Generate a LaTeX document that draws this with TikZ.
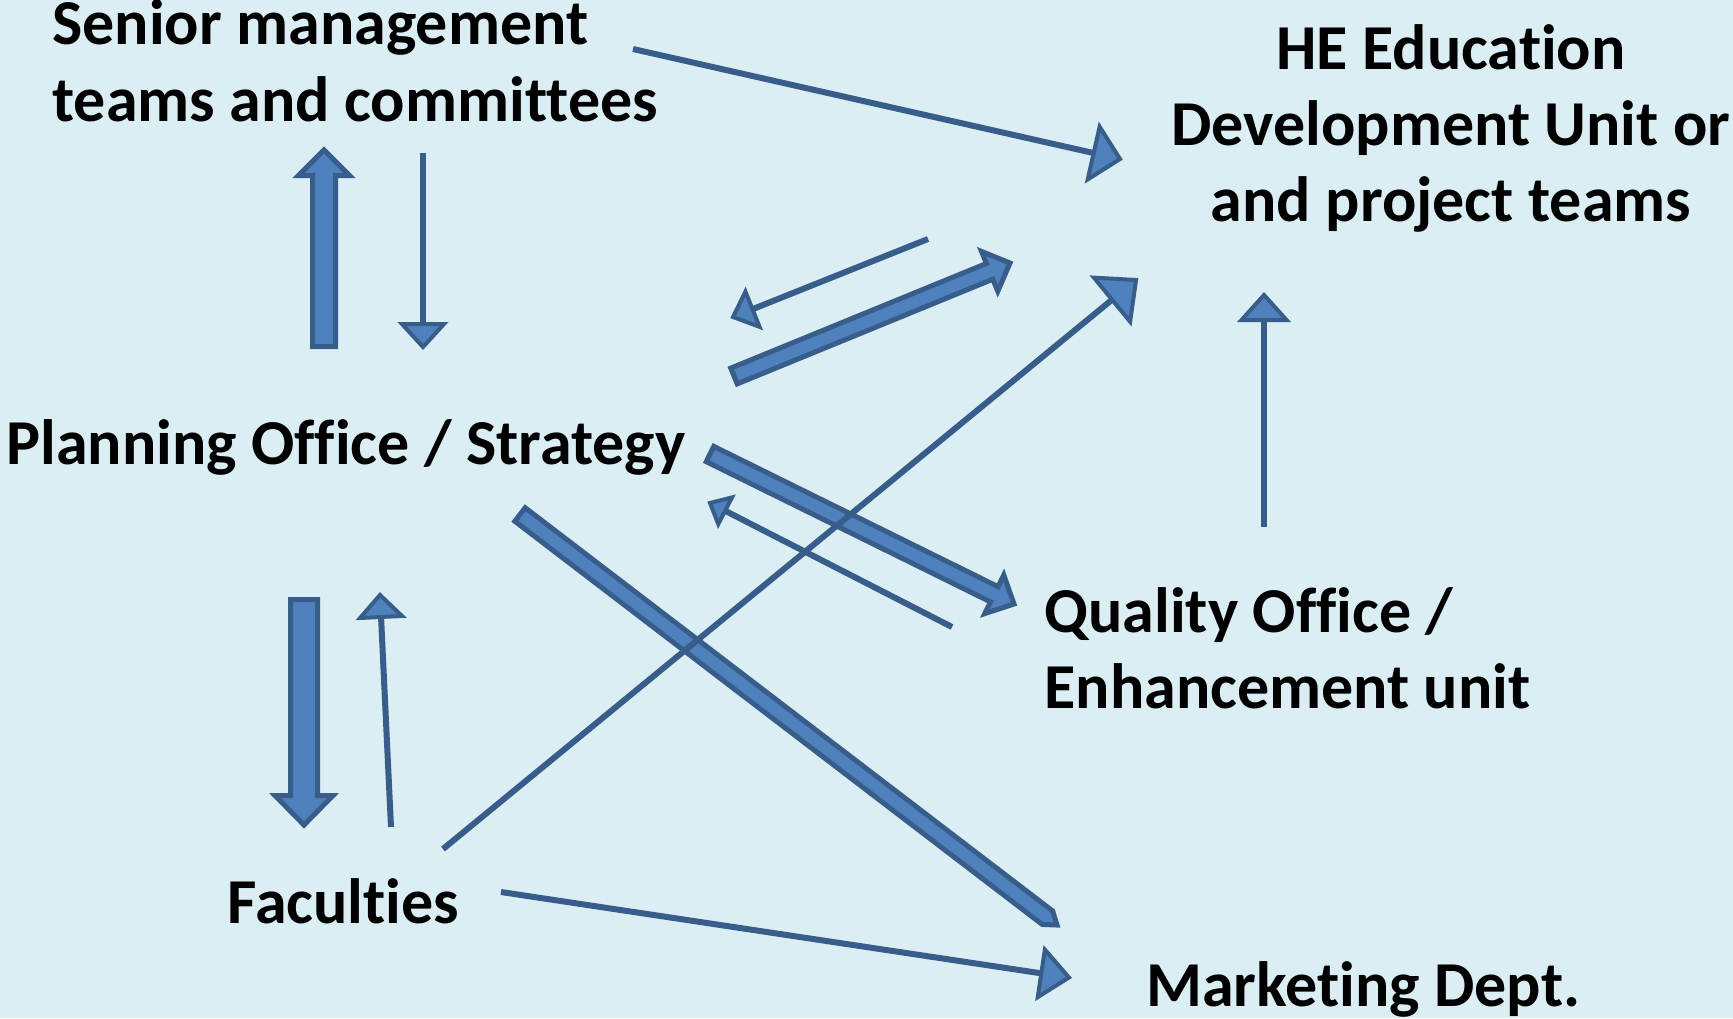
\documentclass[tikz,border=0pt]{standalone}
\usepackage{fontspec}
\setmainfont{Carlito}[RawFeature={-liga;-clig}]
\usetikzlibrary{calc}

\definecolor{bgblue}{HTML}{DAEEF3}
\definecolor{arrfill}{HTML}{4F81BD}
\definecolor{arrline}{HTML}{385D8A}

\tikzset{
  txt/.style={anchor=base west, inner sep=0pt, text=black,
    font=\fontsize{32}{38}\selectfont\bfseries},
  ctxt/.style={txt, anchor=base},
  blockarrow/.style={fill=arrfill, draw=arrline, line width=2.5pt, line join=miter},
  thinline/.style={draw=arrline, line width=3pt},
  thinhead/.style={fill=arrfill, draw=arrline, line width=2pt, line join=miter},
}

% thin connector with a filled triangular head
% #1 start, #2 tip, #3 half head width, #4 head length
\newcommand{\thinarrow}[4]{%
  \coordinate (ta-b) at ($(#2)!#4!(#1)$);
  \draw[thinline] (#1) -- (ta-b);
  \filldraw[thinhead] (#2) -- ($(ta-b)!#3!90:(#1)$) -- ($(ta-b)!#3!-90:(#1)$) -- cycle;
}

% block arrow outline
% #1 start, #2 tip, #3 half shaft width, #4 half head width, #5 head length
\newcommand{\blockarrow}[5]{%
  \coordinate (ba-h) at ($(#2)!#5!(#1)$);
  \filldraw[blockarrow]
    ($(#1)!#3!90:(#2)$) -- ($(ba-h)!#3!-90:(#1)$) -- ($(ba-h)!#4!-90:(#1)$)
    -- (#2) -- ($(ba-h)!#4!90:(#1)$) -- ($(ba-h)!#3!90:(#1)$)
    -- ($(#1)!#3!-90:(#2)$) -- cycle;
}

\begin{document}
\begin{tikzpicture}[x=0.5pt, y=-0.5pt]
  \useasboundingbox (0,0) rectangle (1733,1018);
  \fill[bgblue] (0,0) rectangle (1733,1018);

  % labels
  \node[txt] (senior1) at (52,44) {Senior management};
  \node[txt] (senior2) at (52,121) {teams and committees};
  \node[ctxt] (he1) at (1451,69) {HE Education};
  \node[ctxt] (he2) at (1451,145) {Development Unit or};
  \node[ctxt] (he3) at (1451,221) {and project teams};
  \node[txt] (plan) at (6,464) {Planning Office / Strategy};
  \node[txt] (qual1) at (1044,632) {Quality Office /};
  \node[txt] (qual2) at (1044,708) {Enhancement unit};
  \node[txt] (fac) at (227,923) {Faculties};
  \node[txt] (mkt) at (1146,1006) {Marketing Dept.};

  % connector end points
  \coordinate (senOut) at (633,49);
  \coordinate (heInS) at (1120,159);
  \coordinate (senDn) at (423,153);
  \coordinate (planInS) at (423,347);
  \coordinate (heOutP) at (928,239);
  \coordinate (planInH) at (733,317);
  \coordinate (facOutH) at (443,849);
  \coordinate (heInF) at (1136,280);
  \coordinate (qualOutH) at (1264,527);
  \coordinate (heInQ) at (1264,295);
  \coordinate (qualOutP) at (952,627);
  \coordinate (planInQ) at (710,503);
  \coordinate (facOutP) at (391,827);
  \coordinate (planInF) at (380,595);
  \coordinate (facOutM) at (501,892);
  \coordinate (mktInF) at (1069,977.5);

  \coordinate (planUpA) at (324,346.5);
  \coordinate (senInP) at (324,150);
  \coordinate (planDnA) at (304,599.5);
  \coordinate (facInP) at (304,825);
  \coordinate (planOutH) at (734,376);
  \coordinate (heInP) at (1010,263);
  \coordinate (planOutQ) at (710,454);
  \coordinate (qualInP) at (1014,604);
  \coordinate (planOutM) at (520,514.5);
  \coordinate (mktInP) at (1057,925);

  % thin connectors
  \thinarrow{senOut}{heInS}{13.5pt}{13.5pt}
  \thinarrow{senDn}{planInS}{10.5pt}{11.5pt}
  \thinarrow{heOutP}{planInH}{9.5pt}{10.5pt}
  \thinarrow{qualOutH}{heInQ}{11.25pt}{12.5pt}
  \thinarrow{qualOutP}{planInQ}{7.5pt}{8.5pt}
  \thinarrow{facOutP}{planInF}{10.5pt}{11pt}
  \thinarrow{facOutM}{mktInF}{12pt}{14pt}

  % block arrows
  \blockarrow{planUpA}{senInP}{5.75pt}{12.75pt}{12.75pt}
  \blockarrow{planDnA}{facInP}{6.75pt}{14.5pt}{14.75pt}
  \blockarrow{planOutH}{heInP}{4.25pt}{10.75pt}{11pt}
  \blockarrow{planOutQ}{qualInP}{4.25pt}{10.75pt}{11pt}
  \blockarrow{planOutM}{mktInP}{4.25pt}{4.25pt}{6pt}

  % long thin connector drawn over the block arrows
  \thinarrow{facOutH}{heInF}{14.25pt}{15.5pt}
\end{tikzpicture}
\end{document}
